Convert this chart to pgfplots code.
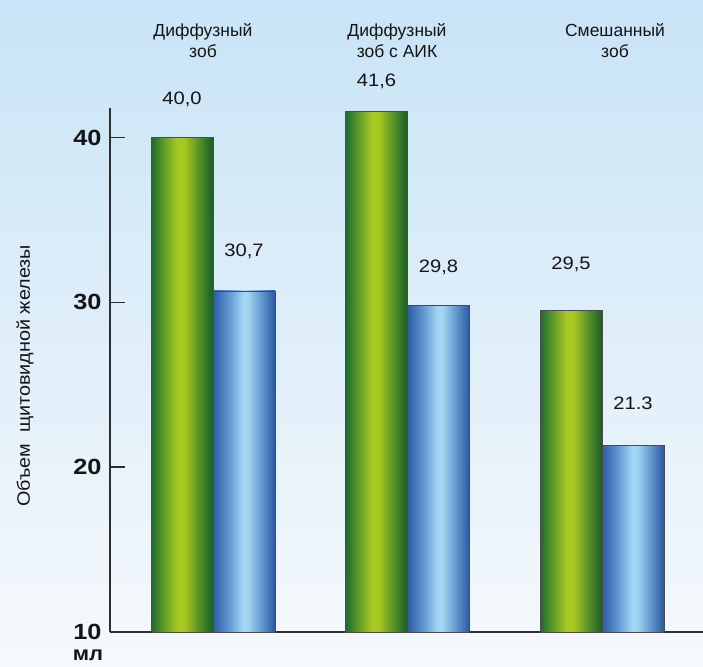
\documentclass[border=0pt]{standalone}
\usepackage{pgfplots}
\pgfplotsset{compat=1.18}
\usepackage{graphicx}
\usepackage{fontspec}
\setmainfont{Liberation Sans}
\usetikzlibrary{backgrounds}
\definecolor{gdarkA}{HTML}{1C6A2E}
\definecolor{gmidA}{HTML}{5E9A28}
\definecolor{glight}{HTML}{A8C822}
\definecolor{gmidB}{HTML}{5A9428}
\definecolor{gdarkB}{HTML}{185C28}
\definecolor{bdarkA}{HTML}{2E5CA6}
\definecolor{bmidA}{HTML}{5E93CF}
\definecolor{blight}{HTML}{A2D6F3}
\definecolor{bmidB}{HTML}{6597D0}
\definecolor{bdarkB}{HTML}{2A58A0}
\definecolor{bgtop}{HTML}{C8E4F6}
\definecolor{bgmid}{HTML}{E6F2FA}
\definecolor{bgbot}{HTML}{F6F9FC}
\definecolor{axisgray}{HTML}{2E2E2E}
\definecolor{txt}{HTML}{151515}
\pgfdeclarehorizontalshading{greenbar}{100bp}{color(0bp)=(gdarkA); color(25bp)=(gdarkA); color(35bp)=(gmidA); color(46bp)=(glight); color(52bp)=(glight); color(63bp)=(gmidB); color(75bp)=(gdarkB); color(100bp)=(gdarkB)}
\pgfdeclarehorizontalshading{bluebar}{100bp}{color(0bp)=(bdarkA); color(25bp)=(bdarkA); color(37bp)=(bmidA); color(49bp)=(blight); color(53bp)=(blight); color(64bp)=(bmidB); color(75bp)=(bdarkB); color(100bp)=(bdarkB)}
\pgfplotsset{
  gbar/.style={ybar, bar width=62pt, bar shift=-31pt, draw=black!70, line width=0.6pt, shade, shading=greenbar,
    nodes near coords style={xshift=-31pt, yshift=#1}},
  bbar/.style={ybar, bar width=62pt, bar shift=31pt, draw=black!70, line width=0.6pt, shade, shading=bluebar,
    nodes near coords style={xshift=31pt, yshift=#1}},
}
\begin{document}
\begin{tikzpicture}
\begin{axis}[
  name=ax,
  scale only axis,
  width=593pt, height=524pt,
  xmin=-0.5296, xmax=2.519,
  ymin=10, ymax=41.8,
  axis x line=bottom, axis y line=left,
  axis line style={line width=1.6pt, draw=axisgray, -},
  xtick=\empty,
  ytick={10,20,30,40},
  tick align=inside,
  major tick length=15pt,
  tick style={line width=1.5pt, draw=axisgray},
  yticklabel style={font=\fontsize{22}{22}\selectfont\bfseries, text=txt, xshift=-5pt},
  yticklabel={\scalebox{1.15}[1]{\pgfmathprintnumber{\tick}}},
  /pgf/number format/assume math mode=true,
  clip mode=individual,
  point meta=explicit symbolic,
  nodes near coords={\scalebox{1.12}[1]{\pgfplotspointmeta}},
  every node near coord/.append style={font=\fontsize{18}{18}\selectfont, text=txt, anchor=center},
]
\addplot[gbar=38pt] coordinates {(0,40.0) [{40,0}]};
\addplot[gbar=30pt] coordinates {(1,41.6) [{41,6}]};
\addplot[gbar=46pt] coordinates {(2,29.5) [{29,5}]};
\addplot[bbar=40pt] coordinates {(0,30.7) [{30,7}]};
\addplot[bbar=38pt] coordinates {(1,29.8) [{29,8}]};
\addplot[bbar=42pt] coordinates {(2,21.3) [{21.3}]};
\end{axis}
\begin{scope}[shift={(ax.south west)}, x=1pt, y=1pt]
  \node[align=center, text=txt, font=\fontsize{17.5}{21}\selectfont] at (93,591) {Диффузный\\зоб};
  \node[align=center, text=txt, font=\fontsize{17.5}{21}\selectfont] at (287,591) {Диффузный\\зоб с АИК};
  \node[align=center, text=txt, font=\fontsize{17.5}{21}\selectfont] at (505,591) {Смешанный\\зоб};
  \node[rotate=90, text=txt, font=\fontsize{18}{18}\selectfont] at (-85,256) {\scalebox{1.1}[1]{Объем\ \ щитовидной железы}};
  \node[text=txt, font=\fontsize{20}{20}\selectfont\bfseries] at (-22,-23) {\scalebox{1.1}[1]{мл}};
  \begin{scope}[on background layer]
    \shade[top color=bgtop, middle color=bgmid, bottom color=bgbot] (-110,-34) rectangle (593,632);
  \end{scope}
  \pgfresetboundingbox
  \useasboundingbox (-110,-34) rectangle (593,632);
\end{scope}
\end{tikzpicture}
\end{document}
